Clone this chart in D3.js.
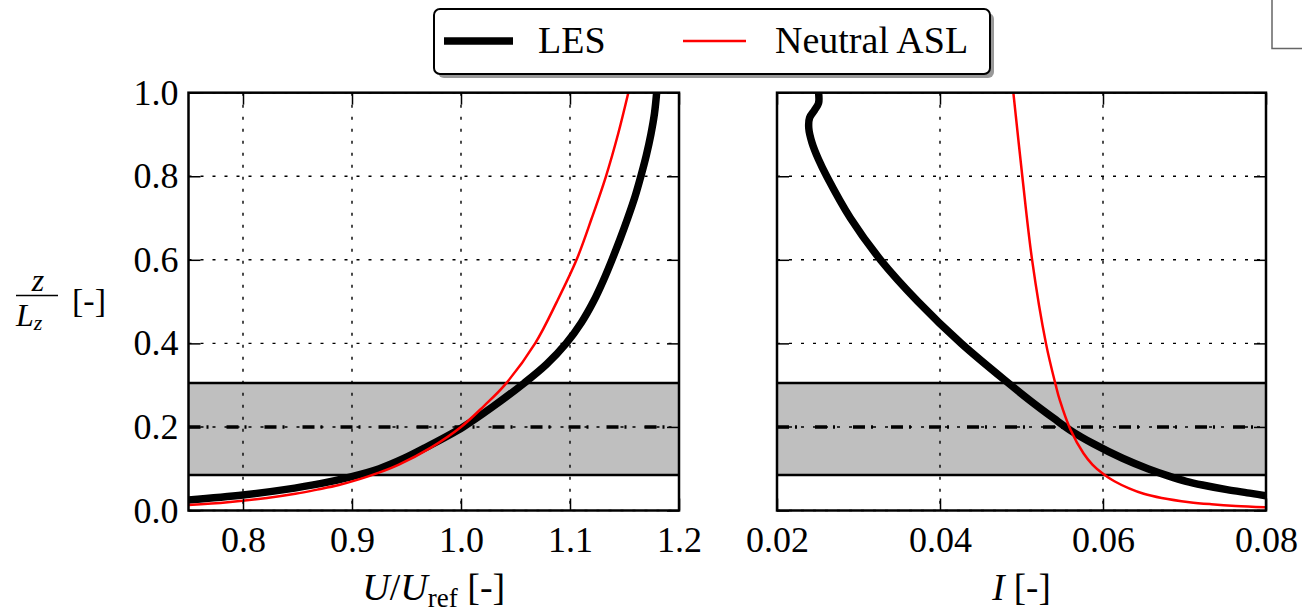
<!DOCTYPE html>
<html>
<head>
<meta charset="utf-8">
<script src="https://cdn.jsdelivr.net/npm/d3@7"></script>
<style>
  body { margin: 0; background: #fff; }
  svg { display: block; }
  svg text { font-family: "Liberation Serif", "Tinos", "Noto Serif", "DejaVu Serif", serif !important; fill: #000; }
</style>
</head>
<body>
<svg id="chart" width="1302" height="612"></svg>
<script>
// ticks
var zTicks = [0.0, 0.2, 0.4, 0.6, 0.8, 1.0],
    uTicks = [0.8, 0.9, 1.0, 1.1, 1.2],
    iTicks = [0.02, 0.04, 0.06, 0.08];

// shaded band and reference height
var bandLo = 0.085, bandHi = 0.305, zRef = 0.2;

// left panel: U/Uref
var lesUz  = [0.025, 0.037, 0.05, 0.065, 0.08, 0.1, 0.125, 0.15, 0.2, 0.25, 0.305, 0.35, 0.4, 0.45, 0.5, 0.55, 0.6, 0.65, 0.7, 0.75, 0.8, 0.85, 0.9, 0.95, 1.0],
    lesU   = [0.75, 0.80, 0.838, 0.872, 0.898, 0.925, 0.948, 0.967, 1.002, 1.030, 1.058, 1.0785, 1.0965, 1.1105, 1.1215, 1.1305, 1.1385, 1.146, 1.153, 1.1595, 1.165, 1.170, 1.1742, 1.1775, 1.1795];
var aslUz  = [0.013, 0.02, 0.03, 0.04, 0.05, 0.061, 0.075, 0.09, 0.11, 0.15, 0.2, 0.25, 0.3, 0.4, 0.5, 0.6, 0.7, 0.8, 0.9, 1.0],
    aslU   = [0.75, 0.786, 0.822, 0.848, 0.868, 0.888, 0.907, 0.924, 0.943, 0.972, 1.0, 1.021, 1.040, 1.068, 1.088, 1.106, 1.120, 1.133, 1.144, 1.1535];

// right panel: turbulence intensity
var lesIz  = [0.035, 0.041, 0.05, 0.061, 0.07, 0.083, 0.1, 0.125, 0.16, 0.192, 0.22, 0.264, 0.3, 0.4, 0.5, 0.6, 0.7, 0.8, 0.84, 0.88, 0.915, 0.94, 0.958, 0.975, 1.0],
    lesI   = [0.0800, 0.0782, 0.0752, 0.0722, 0.0702, 0.0680, 0.0655, 0.0624, 0.0588, 0.0560, 0.0540, 0.0510, 0.0487, 0.0426, 0.0373, 0.0327, 0.0290, 0.0261, 0.0251, 0.0243, 0.0239, 0.0240, 0.0246, 0.0251, 0.0251];
var aslIz  = [0.008, 0.011, 0.015, 0.02, 0.03, 0.04, 0.053, 0.07, 0.088, 0.11, 0.137, 0.194, 0.264, 0.3, 0.4, 0.6, 0.8, 1.0],
    aslI   = [0.0799, 0.0763, 0.0733, 0.0706, 0.0672, 0.0650, 0.0632, 0.0614, 0.0600, 0.0587, 0.0576, 0.0560, 0.0547, 0.0542, 0.0530, 0.0513, 0.0501, 0.0490];

var svg = d3.select("#chart");

var top_y = 92.7, bot_y = 510.5;
var y = d3.scaleLinear().domain([0, 1]).range([bot_y, top_y]);

var panels = [
    {x: d3.scaleLinear().domain([0.75, 1.2]).range([188.5, 679]), ticks: uTicks, fmt: d3.format(".1f"),
     les: [lesUz, lesU], asl: [aslUz, aslU], ylabels: true, id: "pl"},
    {x: d3.scaleLinear().domain([0.02, 0.08]).range([777, 1266]), ticks: iTicks, fmt: d3.format(".2f"),
     les: [lesIz, lesI], asl: [aslIz, aslI], ylabels: false, id: "pr"}
];

panels.forEach(function(p) {
    var x0 = p.x.range()[0], x1 = p.x.range()[1];
    var g = svg.append("g");

    svg.append("clipPath").attr("id", "clip_" + p.id)
        .append("rect")
        .attr("x", x0).attr("y", top_y)
        .attr("width", x1 - x0).attr("height", bot_y - top_y);

    // band
    g.append("rect")
        .attr("x", x0).attr("y", y(bandHi))
        .attr("width", x1 - x0).attr("height", y(bandLo) - y(bandHi))
        .attr("fill", "#bfbfbf");

    // grid
    g.selectAll(".vg").data(p.ticks).enter().append("line")
        .attr("x1", function(d) { return p.x(d); }).attr("x2", function(d) { return p.x(d); })
        .attr("y1", top_y).attr("y2", bot_y)
        .attr("stroke", "#000").attr("stroke-width", 1.4)
        .attr("stroke-dasharray", "3,9");
    g.selectAll(".hg").data(zTicks).enter().append("line")
        .attr("x1", x0).attr("x2", x1)
        .attr("y1", function(d) { return y(d); }).attr("y2", function(d) { return y(d); })
        .attr("stroke", "#000").attr("stroke-width", 1.4)
        .attr("stroke-dasharray", "3,9");

    // band edges and reference line
    [bandLo, bandHi].forEach(function(b) {
        g.append("line")
            .attr("x1", x0).attr("x2", x1).attr("y1", y(b)).attr("y2", y(b))
            .attr("stroke", "#000").attr("stroke-width", 2.5);
    });
    g.append("line")
        .attr("x1", x0).attr("x2", x1).attr("y1", y(zRef)).attr("y2", y(zRef))
        .attr("stroke", "#000").attr("stroke-width", 3.5)
        .attr("stroke-dasharray", "12,6,2,18");

    var line = d3.line()
        .x(function(d) { return p.x(d[1]); })
        .y(function(d) { return y(d[0]); })
        .curve(d3.curveCatmullRom.alpha(0.5));

    var curves = g.append("g").attr("clip-path", "url(#clip_" + p.id + ")");
    curves.append("path")
        .attr("d", line(d3.zip(p.les[0], p.les[1])))
        .attr("fill", "none").attr("stroke", "#000")
        .attr("stroke-width", 7.5).attr("stroke-linejoin", "round").attr("stroke-linecap", "butt");
    curves.append("path")
        .attr("d", line(d3.zip(p.asl[0], p.asl[1])))
        .attr("fill", "none").attr("stroke", "#ff0000")
        .attr("stroke-width", 2.5);

    // axes, ticks inward on all sides
    var bottom = g.append("g").attr("transform", "translate(0," + bot_y + ")")
        .call(d3.axisBottom(p.x).tickValues(p.ticks).tickSize(-12).tickPadding(16).tickFormat(p.fmt));
    var topAx = g.append("g").attr("transform", "translate(0," + top_y + ")")
        .call(d3.axisTop(p.x).tickValues(p.ticks).tickSize(-12).tickFormat(""));
    var left = g.append("g").attr("transform", "translate(" + x0 + ",0)")
        .call(d3.axisLeft(y).tickValues(zTicks).tickSize(-12).tickPadding(10)
            .tickFormat(p.ylabels ? d3.format(".1f") : ""));
    var right = g.append("g").attr("transform", "translate(" + x1 + ",0)")
        .call(d3.axisRight(y).tickValues(zTicks).tickSize(-12).tickFormat(""));

    [bottom, topAx, left, right].forEach(function(a) {
        a.attr("font-family", null);
        a.select(".domain").remove();
        a.selectAll(".tick line").attr("stroke", "#000").attr("stroke-width", 1.5);
        a.selectAll("text").attr("font-size", 36).attr("fill", "#000");
    });

    // frame
    g.append("rect")
        .attr("x", x0).attr("y", top_y)
        .attr("width", x1 - x0).attr("height", bot_y - top_y)
        .attr("fill", "none").attr("stroke", "#000").attr("stroke-width", 2.5);
});

// x labels
var xl = svg.append("text").attr("x", panels[0].x(0.975)).attr("y", 600)
    .attr("text-anchor", "middle").attr("font-size", 38);
xl.append("tspan").attr("font-style", "italic").text("U");
xl.append("tspan").text("/");
xl.append("tspan").attr("font-style", "italic").text("U");
xl.append("tspan").attr("font-size", 27).attr("dy", 7).text("ref");
xl.append("tspan").attr("dy", -7).text(" [-]");

var xr = svg.append("text").attr("x", panels[1].x(0.05)).attr("y", 600)
    .attr("text-anchor", "middle").attr("font-size", 37);
xr.append("tspan").attr("font-style", "italic").text("I");
xr.append("tspan").text(" [-]");

// y label: z / L_z [-]
var yl = svg.append("g");
yl.append("text").attr("x", 38).attr("y", 291).attr("text-anchor", "middle")
    .attr("font-size", 32).attr("font-style", "italic").text("z");
yl.append("line").attr("x1", 16).attr("x2", 58).attr("y1", 295.5).attr("y2", 295.5)
    .attr("stroke", "#000").attr("stroke-width", 1.5);
var lz = yl.append("text").attr("x", 16).attr("y", 326).attr("font-size", 32).attr("font-style", "italic");
lz.append("tspan").text("L");
lz.append("tspan").attr("font-size", 22).attr("dy", 4).text("z");
yl.append("text").attr("x", 72).attr("y", 312).attr("font-size", 34).text("[-]");

// legend
var leg = svg.append("g");
leg.append("rect").attr("x", 438).attr("y", 13).attr("width", 556).attr("height", 65)
    .attr("rx", 6).attr("fill", "#999");
leg.append("rect").attr("x", 434).attr("y", 9).attr("width", 556).attr("height", 65)
    .attr("rx", 6).attr("fill", "#fff").attr("stroke", "#000").attr("stroke-width", 2);
leg.append("line").attr("x1", 444).attr("x2", 513).attr("y1", 41).attr("y2", 41)
    .attr("stroke", "#000").attr("stroke-width", 7.5);
leg.append("text").attr("x", 538).attr("y", 53).attr("font-size", 38).text("LES");
leg.append("line").attr("x1", 683).attr("x2", 746).attr("y1", 41).attr("y2", 41)
    .attr("stroke", "#ff0000").attr("stroke-width", 2.5);
leg.append("text").attr("x", 775).attr("y", 53).attr("font-size", 38).text("Neutral ASL");

// stray page corner at top right
svg.append("path").attr("d", "M1272,0V48.5H1302")
    .attr("fill", "none").attr("stroke", "#666").attr("stroke-width", 1.5);
</script>
</body>
</html>
